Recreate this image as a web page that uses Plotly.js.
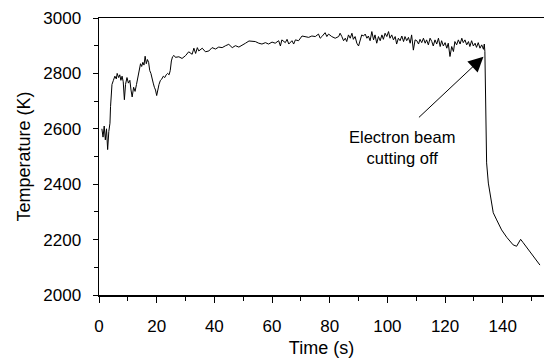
<!DOCTYPE html>
<html>
<head>
<meta charset="utf-8">
<script src="https://cdn.plot.ly/plotly-3.0.1.min.js"></script>
<style>html,body{margin:0;padding:0;background:#fff;}#chart{width:544px;height:360px;}</style>
</head>
<body>
<div id="chart"></div>
<script>
// Warm-up phase (s, K)
var timeWarm = [1.0,1.4,1.8,2.2,2.6,3.0,3.4,3.8,4.0,4.2,4.5,5.0,5.5,6.0,6.3,6.8,7.2,7.6,8.0,8.4,8.8,9.2,9.7,10.2,10.7,11.1,11.5,12.0,12.5,13.0,13.5,14.0,14.4,14.8,15.2,15.6,16.0,16.4,16.8,17.2,17.6,18.0,18.4,18.8,19.2,19.6,20.0,20.4,20.8,21.3,21.8,22.3,22.8,23.3,23.8,24.3,24.7,25.1,25.5,26.0,26.5];
var tempWarm = [2600,2570,2610,2560,2600,2525,2590,2620,2680,2740,2760,2775,2790,2780,2800,2785,2795,2775,2790,2770,2705,2760,2785,2765,2775,2740,2715,2750,2735,2760,2790,2815,2835,2825,2840,2830,2862,2835,2850,2840,2810,2800,2775,2765,2750,2740,2720,2745,2760,2775,2780,2790,2785,2795,2800,2795,2810,2845,2860,2865,2858];
// Plateau, part 1
var timeP1 = [27.7,28.8,30.0,31.1,32.3,32.9,33.5,34.1,34.6,35.8,36.9,38.1,39.2,40.4,41.5,42.7,43.9,45.0,46.2,47.3,48.5,49.6,50.8,52.0,53.1];
var tempP1 = [2860,2854,2864,2878,2869,2891,2872,2893,2881,2891,2878,2881,2893,2888,2895,2893,2900,2905,2893,2900,2895,2903,2909,2917,2915];
// Plateau, part 2
var timeP2 = [54.2,55.4,56.5,57.7,58.8,60.0,61.1,62.3,62.9,63.4,64.6,65.2,65.8,66.9,67.5,68.1,69.2,70.4,71.5,72.7,73.8,75.0,76.1,76.7,77.3,78.4,79.0,79.6,80.7];
var tempP2 = [2915,2909,2906,2911,2906,2913,2909,2918,2899,2921,2911,2923,2906,2918,2906,2921,2918,2935,2933,2930,2935,2933,2942,2927,2933,2947,2933,2942,2933];
// Plateau, part 3
var timeP3 = [81.9,83.1,83.6,84.2,84.8,85.4,85.9,86.5,87.1,87.7,88.2,88.8,89.4,90.0,90.6,91.1,91.7,92.3,92.9,93.4,94.0,94.6,95.2,95.7,96.3,96.9,97.5,98.1,98.6,99.2,99.8,100.4,100.9,101.5,102.1,102.7,103.2,103.8,104.4,105.0,105.6,106.1,106.7,107.3,107.9,108.4,109.0,109.6];
var tempP3 = [2927,2933,2945,2933,2918,2927,2915,2939,2927,2945,2923,2933,2909,2899,2921,2939,2935,2942,2927,2935,2918,2951,2921,2939,2909,2933,2918,2939,2923,2945,2933,2951,2927,2939,2921,2933,2906,2927,2918,2935,2915,2933,2918,2930,2909,2939,2884,2921];
// Plateau, part 4
var timeP4 = [110.2,110.8,111.3,111.9,112.5,113.1,113.6,114.2,114.8,115.4,115.9,116.5,117.1,117.7,118.3,118.8,119.4,120.0,120.6,121.1,121.7,122.3,122.9,123.4,124.0,124.6,125.2,125.8,126.3,126.9,127.5,128.1,128.6,129.2,129.8,130.4,130.9,131.5,132.1,132.7,133.3,133.6,133.8];
var tempP4 = [2918,2906,2923,2911,2927,2909,2921,2903,2927,2915,2899,2921,2906,2927,2897,2918,2899,2911,2891,2909,2861,2897,2879,2915,2903,2921,2906,2927,2911,2921,2903,2915,2897,2918,2899,2909,2894,2911,2891,2903,2887,2906,2879];
// Cooling after beam cut-off
var timeCool = [134.0,134.1,134.4,135.0,135.6,136.2,136.7,137.9,139.6,141.4,142.5,143.6,144.8,145.5,146.2,147.0,147.7,148.9,150.0,151.5,152.9];
var tempCool = [2700,2540,2477,2404,2360,2332,2297,2271,2235,2208,2195,2181,2176,2188,2201,2190,2180,2165,2148,2128,2108];

var xTicks = [0,20,40,60,80,100,120,140];
var yTicks = [2000,2200,2400,2600,2800,3000];

var timeAll = [].concat(timeWarm, timeP1, timeP2, timeP3, timeP4, timeCool);
var tempAll = [].concat(tempWarm, tempP1, tempP2, tempP3, tempP4, tempCool);

var FONT = 'Liberation Sans, Arial, Helvetica, sans-serif';

var trace = {
  x: timeAll, y: tempAll, type: 'scatter', mode: 'lines',
  line: {color: '#000', width: 1},
  hoverinfo: 'skip', showlegend: false
};

var layout = {
  width: 544, height: 360,
  margin: {l: 99, r: 0, t: 18, b: 65, pad: 0},
  paper_bgcolor: '#fff', plot_bgcolor: '#fff',
  font: {family: FONT, color: '#000', size: 17},
  showlegend: false,
  xaxis: {
    range: [0, 154.3], tickvals: xTicks, ticktext: xTicks.map(String),
    showgrid: false, zeroline: false,
    showline: true, linecolor: '#000', linewidth: 1.5, mirror: true,
    ticks: 'outside', ticklen: 6, tickwidth: 1, tickcolor: '#000',
    minor: {dtick: 10, tick0: 0, ticks: 'outside', ticklen: 4, tickwidth: 1, tickcolor: '#000', showgrid: false},
    tickfont: {family: FONT, size: 17, color: '#000'},
    ticklabelstandoff: 9,
    title: {text: 'Time (s)', font: {family: FONT, size: 18, color: '#000'}, standoff: 6},
    automargin: false
  },
  yaxis: {
    range: [2000, 3000], tickvals: yTicks, ticktext: yTicks.map(String),
    showgrid: false, zeroline: false,
    showline: true, linecolor: '#000', linewidth: 1.5,
    ticks: 'outside', ticklen: 5, tickwidth: 1, tickcolor: '#000',
    minor: {dtick: 100, tick0: 2000, ticks: 'outside', ticklen: 4, tickwidth: 1, tickcolor: '#000', showgrid: false},
    tickfont: {family: FONT, size: 17, color: '#000'},
    ticklabelstandoff: 8,
    title: {text: 'Temperature (K)', font: {family: FONT, size: 18, color: '#000'}, standoff: 8},
    automargin: false
  },
  annotations: [
    {
      x: 133.3, y: 2860, xref: 'x', yref: 'y',
      ax: -66, ay: 62, axref: 'pixel', ayref: 'pixel',
      text: '', showarrow: true,
      arrowhead: 2, arrowsize: 3, arrowwidth: 1, arrowcolor: '#000'
    },
    {
      x: 105.2, y: 2534, xref: 'x', yref: 'y',
      text: 'Electron beam<br>cutting off', showarrow: false,
      font: {family: FONT, size: 16.5, color: '#000'},
      align: 'center', xanchor: 'center', yanchor: 'middle'
    }
  ]
};

Plotly.newPlot('chart', [trace], layout, {displayModeBar: false, staticPlot: true});
</script>
</body>
</html>
